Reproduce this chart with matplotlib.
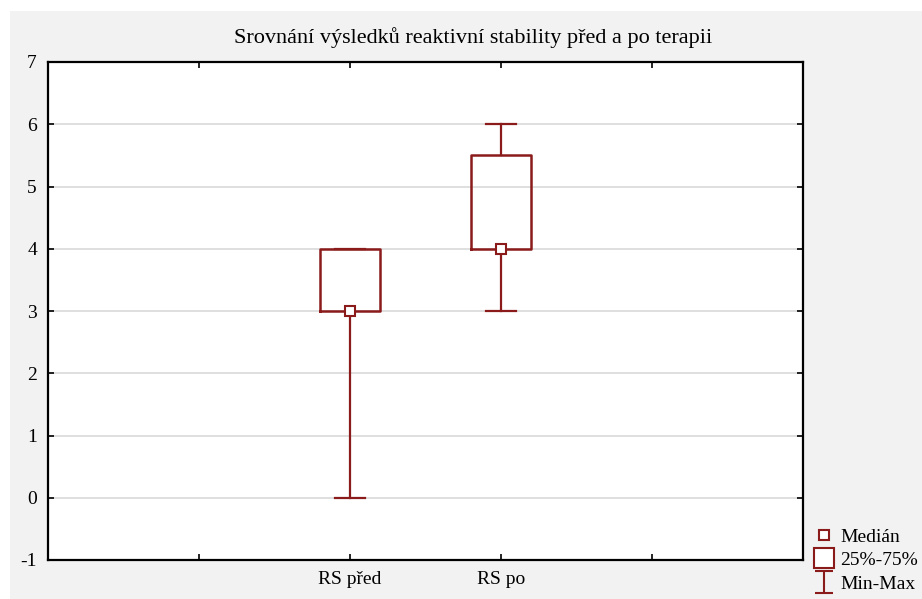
import matplotlib
matplotlib.use("Agg")
import matplotlib.pyplot as plt
from matplotlib.lines import Line2D
from matplotlib.patches import Rectangle
from matplotlib.path import Path

# data
labels = ["RS před", "RS po"]
positions = [2, 3]
medians = [3, 4]
q1 = [3, 4]
q3 = [4, 5.5]
mins = [0, 3]
maxs = [4, 6]

red = "#8b1a1a"
plt.rcParams["font.family"] = ["Liberation Serif", "DejaVu Serif"]
plt.rcParams["axes.unicode_minus"] = False

fig = plt.figure(figsize=(9.22, 5.99), dpi=100, facecolor="white")
fig.patches.append(Rectangle((10 / 922, 0), 1, 1 - 11 / 599, transform=fig.transFigure,
                             facecolor="#f2f2f2", edgecolor="none", zorder=-10))
ax = fig.add_axes([48 / 922, 39 / 599, 755 / 922, 498 / 599])
ax.set_facecolor("white")

stats = []
for i in range(len(labels)):
    stats.append({"med": medians[i], "q1": q1[i], "q3": q3[i],
                  "whislo": mins[i], "whishi": maxs[i], "label": labels[i]})

ax.bxp(stats, positions=positions, widths=0.4, showfliers=False,
       boxprops=dict(color=red, linewidth=1.8),
       whiskerprops=dict(color=red, linewidth=1.6),
       capprops=dict(color=red, linewidth=1.6),
       medianprops=dict(visible=False), capwidths=0.2, zorder=3)
ax.plot(positions, medians, "s", ms=7.5, mfc="white", mec=red, mew=1.5, zorder=4)

ax.set_xlim(0, 5)
ax.set_ylim(-1, 7)
ax.set_xticks([1, 2, 3, 4])
ax.set_xticklabels(["", labels[0], labels[1], ""])
ax.set_yticks(range(-1, 8))
ax.yaxis.grid(True, color="#d9d9d9", linewidth=1.2)
ax.set_axisbelow(True)
ax.tick_params(direction="in", length=4, width=1.2, top=True, right=True,
               labelsize=14, pad=8)
for s in ax.spines.values():
    s.set_linewidth(1.6)

# title is centred over the whole figure, not over the axes
fig.text(473 / 922, 1 - 38 / 599, "Srovnání výsledků reaktivní stability před a po terapii",
         fontsize=16, ha="center", va="center")

# legend with I-beam marker for min-max
ibeam = Path([(-0.4, 0.5), (0.4, 0.5), (0, 0.5), (0, -0.5), (-0.4, -0.5), (0.4, -0.5)],
             [Path.MOVETO, Path.LINETO, Path.MOVETO, Path.LINETO, Path.MOVETO, Path.LINETO])
handles = [
    Line2D([], [], ls="none", marker="s", ms=7.5, mfc="white", mec=red, mew=1.5),
    Line2D([], [], ls="none", marker="s", ms=14, mfc="white", mec=red, mew=1.5),
    Line2D([], [], ls="none", marker=ibeam, ms=16, mfc="none", mec=red, mew=1.5),
]
fig.legend(handles, ["Medián", "25%-75%", "Min-Max"], loc="lower left",
           bbox_to_anchor=(803 / 922, -0.012), frameon=False, fontsize=14,
           handlelength=0.8, handletextpad=0.4, labelspacing=0.3, borderpad=0.2)

fig.savefig("out.png", dpi=100, facecolor=fig.get_facecolor())
